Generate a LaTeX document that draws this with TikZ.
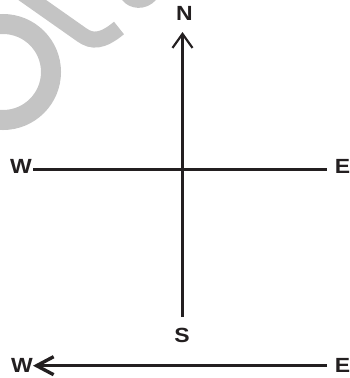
\documentclass[tikz,border=0pt]{standalone}
\usepackage{fontspec}
\usetikzlibrary{arrows.meta}
\newfontfamily\lblfont{Liberation Sans}[FakeStretch=1.12]
\definecolor{inkc}{RGB}{35,31,32}
\definecolor{wmc}{RGB}{196,196,196}
\begin{document}
\begin{tikzpicture}[x=1pt,y=-1pt,
  ink/.style={draw=inkc, line width=#1},
  lbl/.style={font=\lblfont\bfseries\fontsize{20.5}{22}\selectfont, text=inkc, inner sep=0pt},
  wm/.style={draw=wmc, line width=#1}]
\useasboundingbox (0,0) rectangle (349,378);
% watermark fragment
\begin{scope}
  \clip (0,0) rectangle (349,378);
  \draw[wm=20pt] (3,72) circle[radius=48];
  \draw[wm=16pt] (18,-10) -- (82,35) .. controls (92,42) and (102,42) .. (119,28);
  \fill[wmc] (122,0) .. controls (130,10) and (146,11) .. (156,0) -- cycle;
\end{scope}
% labels
\node[lbl] (N) at (184.5,13) {N};
\node[lbl] (S) at (182,335) {S};
\node[lbl] (W1) at (21,166.5) {W};
\node[lbl, anchor=east] (E1) at (350.5,166.5) {E};
\node[lbl] (W2) at (22,365.5) {W};
\node[lbl, anchor=east] (E2) at (350.5,365.5) {E};
% line ends
\coordinate (ntip) at (182.5,32);
\coordinate (sbot) at (182.5,317);
\coordinate (w1end) at (33,169.5);
\coordinate (e1end) at (327,169.5);
\coordinate (w2tip) at (33,365.7);
\coordinate (e2end) at (327,365.7);
% lines
\draw[ink=3.4pt] (w1end) -- (e1end);
\draw[ink=2.2pt, -{Straight Barb[length=14pt,width=20pt]}] (sbot) -- (ntip);
\draw[ink=3.4pt, -{Straight Barb[length=17pt,width=18pt]}] (e2end) -- (w2tip);
\end{tikzpicture}
\end{document}
